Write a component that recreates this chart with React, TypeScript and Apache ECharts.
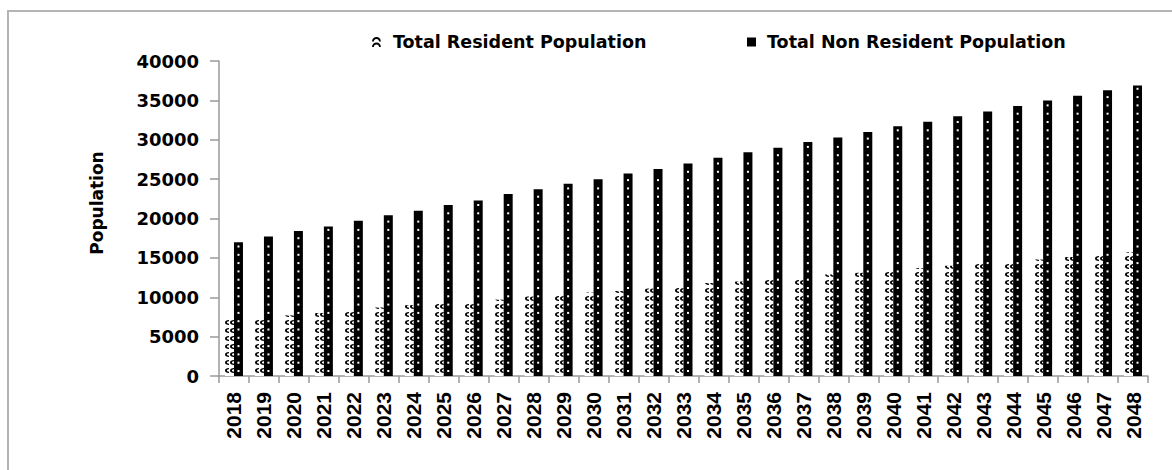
import { useEffect, useRef } from "react";
import * as echarts from "echarts";

// Projection years on the category axis
const years = [
  "2018", "2019", "2020", "2021", "2022", "2023", "2024", "2025", "2026", "2027",
  "2028", "2029", "2030", "2031", "2032", "2033", "2034", "2035", "2036", "2037",
  "2038", "2039", "2040", "2041", "2042", "2043", "2044", "2045", "2046", "2047", "2048",
];

// Total resident population per year
const residentPopulation = [
  7200, 7400, 7700, 8000, 8400, 8700, 9000, 9200, 9400, 9700,
  10100, 10300, 10600, 10800, 11100, 11400, 11800, 12000, 12300, 12500,
  12900, 13100, 13500, 13700, 14000, 14300, 14500, 14800, 15100, 15400, 15700,
];

// Total non resident population per year
const nonResidentPopulation = [
  17000, 17700, 18400, 19000, 19700, 20400, 21000, 21700, 22300, 23100,
  23700, 24400, 25000, 25700, 26300, 27000, 27700, 28400, 29000, 29700,
  30300, 31000, 31700, 32300, 33000, 33600, 34300, 35000, 35600, 36300, 36900,
];

// Value axis range
const yMin = 0;
const yMax = 40000;
const yStep = 5000;

const RESIDENT = "Total Resident Population";
const NON_RESIDENT = "Total Non Resident Population";

const boldWide = "'DejaVu Sans', Verdana, sans-serif";
const boldArial = "'Liberation Sans', Arial, sans-serif";

// crescent used as the wave fill of the resident bars
const crescent = "path://M5,0 C0,0 0,5 5,5 L5,3.7 C2.4,3.7 2.4,1.3 5,1.3 Z";
// two stacked arches for the resident legend swatch
const archIcon =
  "path://M0,4 A4,4 0 0 1 8,4 L6.3,4 A2.3,2.3 0 0 0 1.7,4 Z M0,9 A4,4 0 0 1 8,9 L6.3,9 A2.3,2.3 0 0 0 1.7,9 Z";

export default function App() {
  const ref = useRef<HTMLDivElement>(null);

  useEffect(() => {
    document.body.style.margin = "0";
    const chart = echarts.init(ref.current!, undefined, { renderer: "svg" });

    chart.setOption({
      animation: false,
      backgroundColor: "#fff",
      grid: { left: 219, top: 61, width: 929, height: 315, containLabel: false },
      legend: [
        {
          left: 372,
          top: 32,
          padding: 0,
          itemWidth: 9,
          itemHeight: 10,
          data: [{ name: RESIDENT, icon: archIcon, itemStyle: { color: "#000", decal: "none" } }],
          textStyle: {
            fontFamily: boldWide,
            fontWeight: "bold",
            fontSize: 17.5,
            color: "#000",
            lineHeight: 20,
            padding: [0, 0, 0, 7],
          },
        },
        {
          left: 747,
          top: 32,
          padding: 0,
          itemWidth: 9,
          itemHeight: 9,
          data: [{ name: NON_RESIDENT, icon: "rect", itemStyle: { color: "#000" } }],
          textStyle: {
            fontFamily: boldWide,
            fontWeight: "bold",
            fontSize: 17.5,
            color: "#000",
            lineHeight: 20,
            padding: [0, 0, 0, 6],
          },
        },
      ],
      xAxis: {
        type: "category",
        data: years,
        boundaryGap: true,
        axisLine: { show: true, lineStyle: { color: "#9a9a9a", width: 1.5 } },
        axisTick: { show: true, length: 7, alignWithLabel: false, lineStyle: { color: "#9a9a9a", width: 1.5 } },
        axisLabel: {
          interval: 0,
          rotate: 90,
          margin: 16,
          fontFamily: boldArial,
          fontWeight: "bold",
          fontSize: 21,
          color: "#000",
        },
        splitLine: { show: false },
      },
      yAxis: {
        type: "value",
        min: yMin,
        max: yMax,
        interval: yStep,
        axisLine: { show: true, lineStyle: { color: "#9a9a9a", width: 1.5 } },
        axisTick: { show: true, length: 9, lineStyle: { color: "#9a9a9a", width: 1.5 } },
        axisLabel: {
          margin: 20,
          fontFamily: boldWide,
          fontWeight: "bold",
          fontSize: 18,
          color: "#000",
          formatter: (v: number) => String(v),
        },
        splitLine: { show: false },
      },
      series: [
        {
          name: RESIDENT,
          type: "bar",
          data: residentPopulation,
          barGap: "0%",
          barCategoryGap: "40%",
          itemStyle: {
            color: "#fff",
            decal: {
              symbol: crescent,
              symbolSize: 1,
              symbolKeepAspect: false,
              color: "#000",
              dashArrayX: [4, 0.6],
              dashArrayY: [4.5, 2.5],
              rotation: 0,
            },
          },
        },
        {
          name: NON_RESIDENT,
          type: "bar",
          data: nonResidentPopulation,
          barGap: "0%",
          barCategoryGap: "40%",
          itemStyle: { color: "#000" },
        },
        {
          // white dotted centre line running up each non resident bar
          name: "nonResidentDots",
          type: "custom",
          z: 3,
          silent: true,
          data: nonResidentPopulation.map((v, i) => [i, v]),
          encode: { x: 0, y: 1 },
          renderItem: (_params: any, api: any) => {
            const idx = api.value(0);
            const val = api.value(1);
            const top = api.coord([idx, val]);
            const base = api.coord([idx, 0]);
            const band = api.size([1, 0])[0];
            const x = top[0] + band * 0.15 - 1;
            const children: any[] = [];
            for (let y = base[1] - 5; y > top[1] + 3; y -= 8.3) {
              children.push({
                type: "rect",
                shape: { x, y: y - 1, width: 2, height: 2 },
                style: { fill: "#fff" },
              });
            }
            return { type: "group", children };
          },
        },
      ],
      graphic: [
        {
          type: "rect",
          silent: true,
          shape: { x: 8, y: 11, width: 1200, height: 500 },
          style: { fill: "none", stroke: "#b4b4b4", lineWidth: 2 },
        },
        {
          type: "text",
          x: 97,
          y: 203,
          rotation: Math.PI / 2,
          style: {
            text: "Population",
            fontFamily: boldWide,
            fontWeight: "bold",
            fontSize: 17,
            fill: "#000",
            textAlign: "center",
            textVerticalAlign: "middle",
          },
        },
      ],
    });

    return () => chart.dispose();
  }, []);

  return <div ref={ref} style={{ width: 1172, height: 470 }} />;
}
